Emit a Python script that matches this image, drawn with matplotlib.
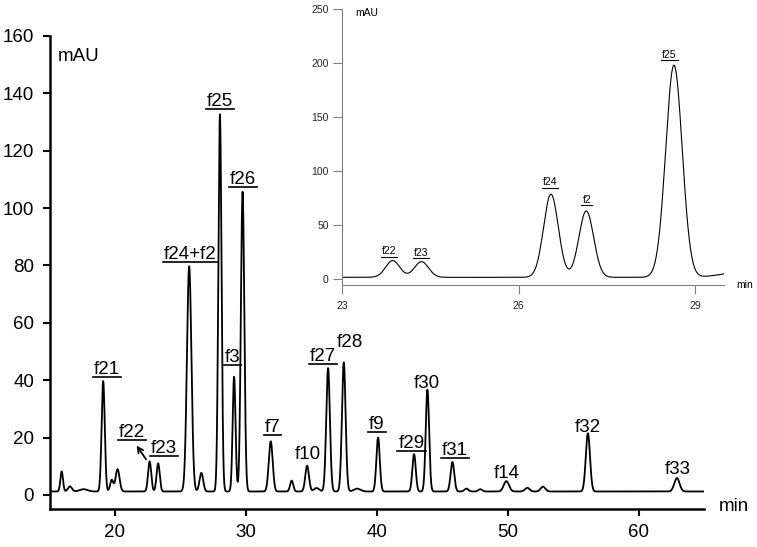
import numpy as np
import matplotlib
matplotlib.use('Agg')
import matplotlib.pyplot as plt
from matplotlib.lines import Line2D

plt.rcParams['font.family'] = ['Liberation Sans', 'DejaVu Sans']

# main chromatogram: peak retention time (min), height (mAU), sigma (min)
main_rt = [15.93, 16.56, 17.6, 19.1, 19.75, 20.2, 22.65, 23.3, 25.67, 26.6, 28.02,
           29.1, 29.75, 31.9, 33.5, 34.68, 35.4, 36.28, 37.48, 38.5, 40.1, 42.85,
           43.87, 45.78, 46.85, 47.9, 49.9, 51.5, 52.7, 56.13, 62.93]
main_h = [7.0, 1.8, 0.8, 38.5, 4.0, 7.8, 10.5, 9.8, 78.5, 6.5, 131.5,
          40.0, 104.5, 17.5, 3.8, 9.0, 1.2, 43.0, 45.0, 1.0, 18.8, 13.0,
          35.5, 10.3, 1.0, 0.8, 3.6, 1.3, 1.7, 20.3, 4.7]
main_w = [0.1, 0.15, 0.3, 0.12, 0.12, 0.15, 0.12, 0.12, 0.17, 0.14, 0.12,
          0.11, 0.13, 0.15, 0.12, 0.14, 0.2, 0.14, 0.14, 0.25, 0.13, 0.13,
          0.13, 0.14, 0.15, 0.15, 0.2, 0.18, 0.18, 0.16, 0.2]
main_base = 1.2

# inset chromatogram (23-29.5 min)
ins_rt = [23.86, 24.35, 26.55, 27.15, 28.64, 29.7]
ins_h = [15.5, 14.5, 77.0, 61.5, 196.5, 4.0]
ins_w = [0.12, 0.12, 0.125, 0.125, 0.14, 0.3]
ins_base = 1.5

# labels: text, retention time, mAU baseline position, underlined
main_labels = [('f21', 19.37, 42.2, True), ('f22', 21.30, 20.2, True),
               ('f23', 23.76, 14.5, True), ('f24+f2', 25.73, 82.1, True),
               ('f25', 28.02, 135.7, True), ('f26', 29.79, 108.4, True),
               ('f3', 28.98, 46.3, True), ('f7', 32.04, 22.0, True),
               ('f10', 34.76, 12.5, False), ('f27', 35.90, 46.7, True),
               ('f28', 37.94, 51.7, False), ('f9', 40.02, 23.0, True),
               ('f29', 42.65, 16.4, True), ('f30', 43.79, 37.3, False),
               ('f31', 45.95, 13.9, True), ('f14', 49.95, 5.8, False),
               ('f32', 56.13, 21.8, False), ('f33', 63.0, 7.3, False)]
ins_labels = [('f22', 23.80, 22.7), ('f23', 24.34, 21.3), ('f24', 26.53, 86.6),
              ('f2', 27.16, 70.4), ('f25', 28.56, 205.0)]


def trace(t, rts, hs, ws, base):
    y = np.full_like(t, base)
    for r, h, w in zip(rts, hs, ws):
        y += h * np.exp(-0.5 * ((t - r) / w) ** 2)
    return y


fig = plt.figure(figsize=(7.57, 5.47), dpi=100)
ax = fig.add_axes([0.0654, 0.0695, 0.8646, 0.8647])

t = np.linspace(15, 65, 6000)
ax.plot(t, trace(t, main_rt, main_h, main_w, main_base), color='black', lw=1.3)
ax.set_xlim(15, 65)
ax.set_ylim(-4.9, 160)
ax.set_xticks([20, 30, 40, 50, 60])
ax.set_yticks(np.arange(0, 161, 20))
for s in ['top', 'right']:
    ax.spines[s].set_visible(False)
for s in ['left', 'bottom']:
    ax.spines[s].set_linewidth(1.8)
ax.tick_params(direction='out', length=5, width=1.5, labelsize=13.5)
ax.tick_params(axis='x', pad=6)
ax.tick_params(axis='y', pad=6)
ax.text(0.013, 0.956, 'mAU', transform=ax.transAxes, fontsize=13.5, va='center')
ax.text(1.045, 0.005, 'min', transform=ax.transAxes, fontsize=13.5, va='center',
        ha='center', clip_on=False)

under = []
for lab, x, y, u in main_labels:
    tx = ax.text(x, y, lab, fontsize=13.5, ha='center', va='baseline')
    if u:
        under.append((tx, 1.2))

ax.annotate('', xy=(21.53, 18.0), xytext=(22.50, 11.6),
            arrowprops=dict(arrowstyle='->', color='black', lw=1.3))

# inset
ins = fig.add_axes([0.4518, 0.479, 0.5046, 0.5045])
ti = np.linspace(23, 29.49, 3000)
ins.plot(ti, trace(ti, ins_rt, ins_h, ins_w, ins_base), color='black', lw=0.8)
ins.set_xlim(23, 29.49)
ins.set_ylim(-5.6, 250)
ins.set_xticks([23, 26, 29])
ins.set_yticks([0, 50, 100, 150, 200, 250])
ins.patch.set_alpha(0)
for s in ['top', 'right']:
    ins.spines[s].set_visible(False)
for s in ['left', 'bottom']:
    ins.spines[s].set_color('#808080')
    ins.spines[s].set_linewidth(0.8)
ins.tick_params(direction='out', length=6.5, width=0.8, color='#808080',
                labelsize=7.5, labelcolor='#222222')
ins.tick_params(axis='x', pad=5)
ins.tick_params(axis='y', pad=3)
ins.text(0.035, 0.985, 'mAU', transform=ins.transAxes, fontsize=7.5, va='center')
ins.text(1.055, 0.0, 'min', transform=ins.transAxes, fontsize=7.5, va='center',
         ha='center', clip_on=False)
for lab, x, y in ins_labels:
    tx = ins.text(x, y, lab, fontsize=7.5, ha='center', va='baseline')
    under.append((tx, 0.8))

# underline labels using their rendered extent
fig.canvas.draw()
r = fig.canvas.get_renderer()
W, H = fig.bbox.width, fig.bbox.height
for tx, lw in under:
    bb = tx.get_window_extent(r)
    y0 = bb.y0 + bb.height * 0.18 - 2.0
    x0, x1 = bb.x0 - 1, bb.x1 + 1
    fig.add_artist(Line2D([x0 / W, x1 / W], [y0 / H, y0 / H], color='black', lw=lw))

fig.savefig('out.png', dpi=100)
